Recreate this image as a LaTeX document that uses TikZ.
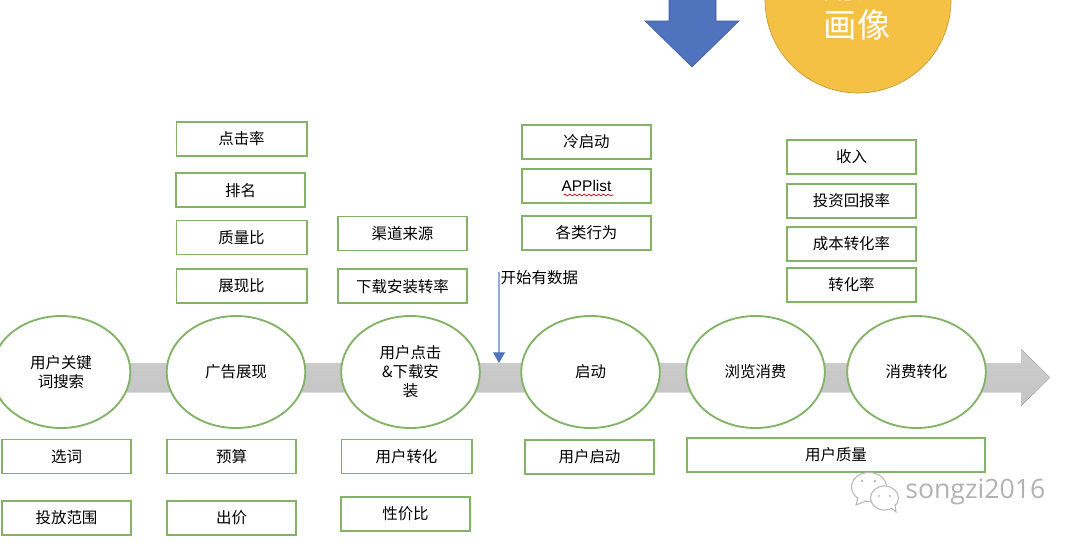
\documentclass[tikz,border=0pt]{standalone}
\usepackage{fontspec}
\setmainfont{Noto Sans CJK SC}
\newfontfamily\latinfont{Liberation Sans}
\usepackage{xcolor}
\usepackage{tikz}
\usetikzlibrary{calc, arrows.meta, positioning, shapes.geometric, decorations.pathmorphing}
\definecolor{stageline}{HTML}{82B366}
\definecolor{flowgray}{HTML}{C4C4C4}
\definecolor{downblue}{HTML}{4F73BD}
\definecolor{portraitfill}{HTML}{F5C144}
\tikzset{
  stage/.style={ellipse,draw=stageline,fill=white,line width=1.4pt,minimum width=104pt,minimum height=84pt,
    inner sep=0pt,outer sep=0pt,font=\fontsize{11.6pt}{14.3pt}\selectfont,text width=56pt,align=center},
  metric/.style={rectangle,draw=stageline,fill=white,line width=1.4pt,minimum width=97pt,minimum height=25.5pt,
    inner sep=0pt,outer sep=0pt,font=\fontsize{11.6pt}{14pt}\selectfont},
  widemetric/.style={metric,minimum width=97.6pt},
  dataarrow/.style={-{Triangle[length=8pt,width=9pt,color=downblue]},line width=.8pt,color=downblue!60!white},
  spellmark/.style={draw=red!80!black,line width=.5pt,decorate,decoration={snake,amplitude=.7pt,segment length=3.6pt}},
  bubble/.style={draw=gray!55,fill=white,line width=.8pt}
}

\begin{document}
\begin{tikzpicture}[x=0.75pt,y=-0.75pt]
  \useasboundingbox (0,0) rectangle (1080,543);
  % top shapes
  \fill[downblue,draw=downblue!80!black,line width=.4pt] (669,-5) -- (716,-5) -- (716,21) -- (739,21) -- (692,67) -- (645,21) -- (669,21) -- cycle;
  \node[circle,draw=portraitfill!80!black,fill=portraitfill,line width=.5pt,minimum size=139.5pt,inner sep=0pt] (portrait) at (858,0) {};
  \node[text=white,font=\fontsize{25pt}{29pt}\selectfont,align=center,anchor=south] (portraittext) at (857,45) {用户\\画像};

  % main flow
  \fill[top color=flowgray!85!white,bottom color=flowgray] (100,363) -- (1021,363) -- (1021,349) -- (1050,377.5) -- (1021,406) -- (1021,392) -- (100,392) -- cycle;
  \node[stage] (search) at (61,372) {用户关键\\词搜索};
  \node[stage] (show) at (236,372) {广告展现};
  \node[stage] (click) at (410.5,372) {用户点击\\\&下载安\\装};
  \node[stage] (start) at (590.5,372) {启动};
  \node[stage] (browse) at (755.5,372) {浏览消费};
  \node[stage] (convert) at (916.5,372) {消费转化};

  % upper columns
  \node[widemetric] (ctr) at (241.5,139) {点击率};
  \node[metric, below=13pt of ctr, xshift=-.75pt] (rank) {排名};
  \node[widemetric] (quality) at (241.5,237.5) {质量比};
  \node[widemetric, below=11pt of quality] (impress) {展现比};
  \node[metric] (channel) at (402.5,233.5) {渠道来源};
  \node[metric, below=14pt of channel] (install) {下载安装转率};
  \node[metric] (cold) at (586.5,142) {冷启动};
  \node[metric, below=7.5pt of cold] (applist) {\latinfont APPlist};
  \node[metric, below=9.75pt of applist] (behave) {各类行为};
  \node[metric] (income) at (851.5,157) {收入};
  \node[metric, below=7.5pt of income] (roi) {投资回报率};
  \node[metric, below=6.75pt of roi] (costrate) {成本转化率};
  \node[metric, below=5pt of costrate] (rate) {转化率};
  \draw[spellmark] ($(applist.center)+(-23,9)$) -- ($(applist.center)+(27,9)$);

  % lower columns
  \node[metric] (word) at (66.5,456.5) {选词};
  \node[metric, below=20.5pt of word] (range) {投放范围};
  \node[metric] (budget) at (231.5,456.5) {预算};
  \node[metric, below=20.5pt of budget] (bid) {出价};
  \node[widemetric] (userconv) at (406.5,456.5) {用户转化};
  \node[metric, below=17.5pt of userconv, xshift=-.75pt] (value) {性价比};
  \node[metric] (userstart) at (589.5,457) {用户启动};
  \node[metric, minimum width=224pt] (userq) at (836,455) {用户质量};

  % data start
  \coordinate (datatop) at (499,272);
  \coordinate (databot) at (499,363);
  \draw[dataarrow] (datatop) -- (databot);
  \node[font=\fontsize{11.6pt}{14pt}\selectfont,anchor=west] (datalabel) at (496,278) {开始有数据};

  % watermark
  \draw[bubble] (869,487) ellipse (17.5 and 14.5);
  \draw[bubble] (858,497) -- (856,505) -- (866,501);
  \draw[bubble] (884.5,498) ellipse (14 and 12);
  \draw[bubble] (891,508) -- (896,512) -- (895,504);
  \fill[gray!55] (862,481) circle (1.3) (875,481) circle (1.3) (879,496) circle (1.1) (890,496) circle (1.1);
  \node[font=\fontsize{20pt}{24pt}\selectfont,text=gray!60,anchor=west,inner sep=0pt] (mark) at (905,492) {\fontspec{Open Sans}songzi2016};
\end{tikzpicture}
\end{document}
